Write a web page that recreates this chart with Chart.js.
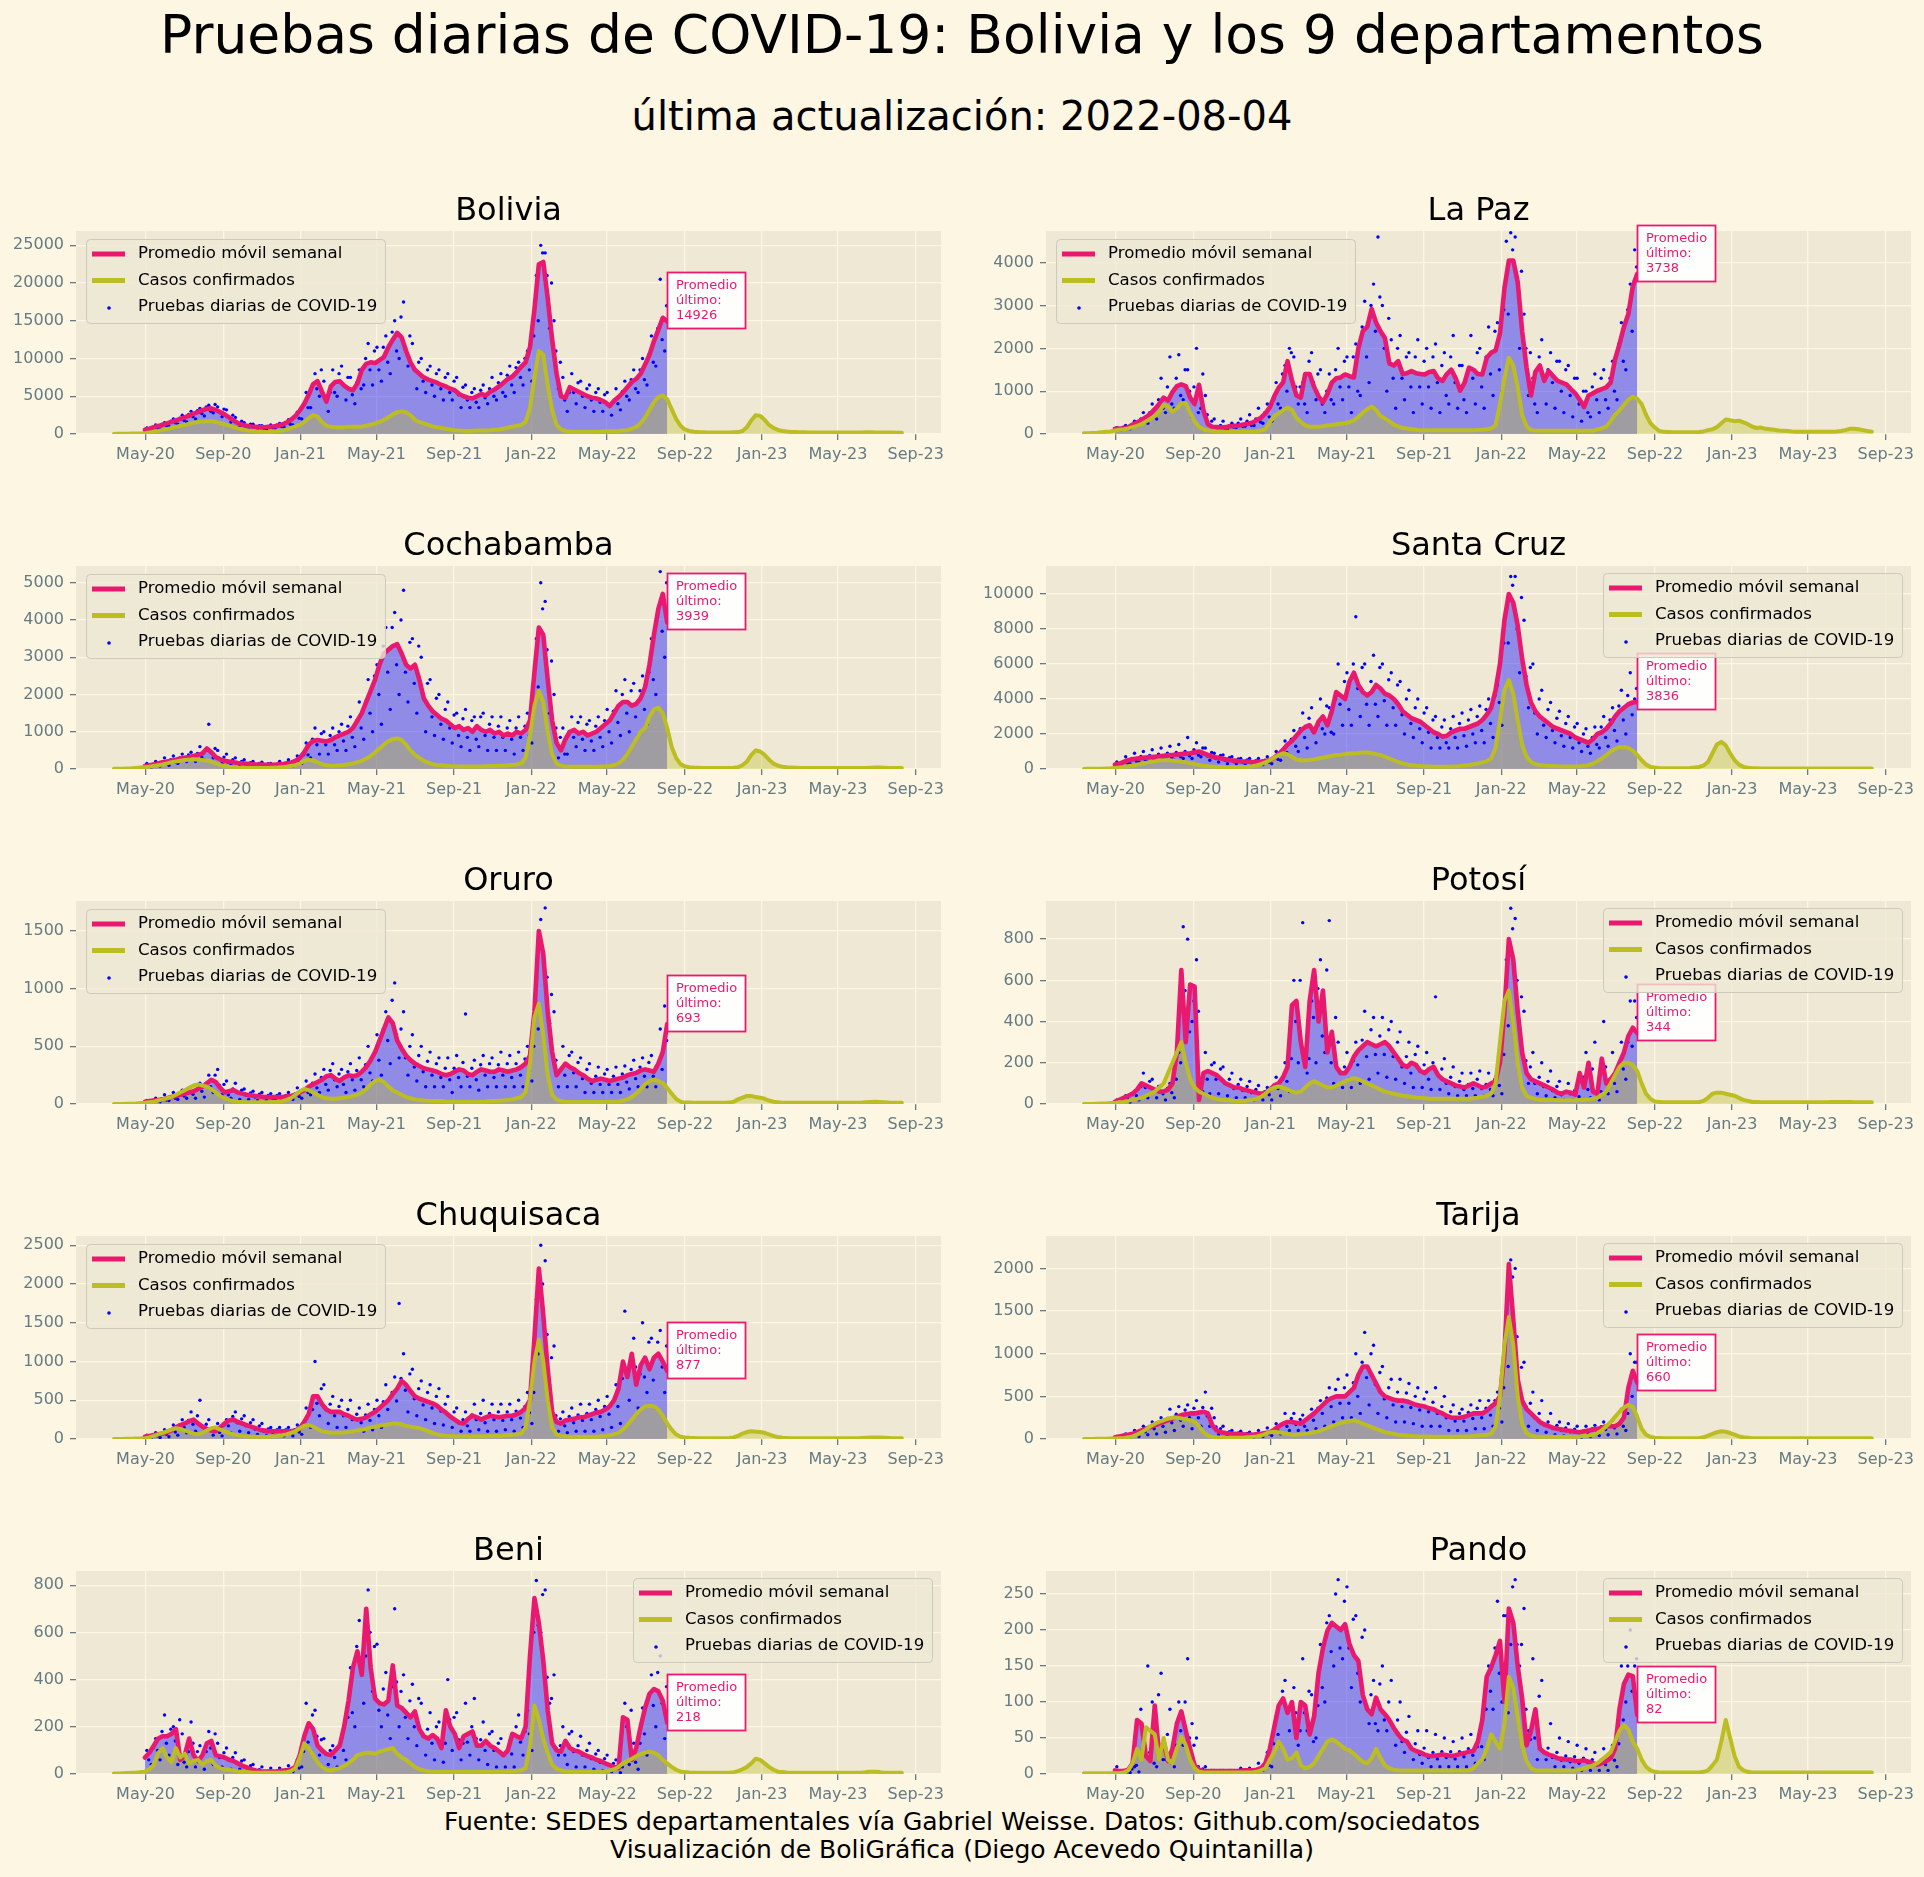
<!DOCTYPE html>
<html><head><meta charset="utf-8">
<script src="https://cdn.jsdelivr.net/npm/chart.js@4"></script>
<style>
html,body{margin:0;padding:0;background:#fdf6e3;}
body{width:1924px;height:1877px;position:relative;overflow:hidden;font-family:'DejaVu Sans',sans-serif;}
.t{position:absolute;white-space:nowrap;color:#000;line-height:1;text-align:center;}
canvas{position:absolute;}
</style></head><body>
<div class="t" style="left:0;width:1924px;top:8px;font-size:53.5px">Pruebas diarias de COVID-19: Bolivia y los 9 departamentos</div>
<div class="t" style="left:0;width:1924px;top:96px;font-size:40px">última actualización: 2022-08-04</div>
<div class="t" style="left:0;width:1924px;top:1809px;font-size:25px">Fuente: SEDES departamentales vía Gabriel Weisse. Datos: Github.com/sociedatos</div>
<div class="t" style="left:0;width:1924px;top:1837px;font-size:25px">Visualización de BoliGráfica (Diego Acevedo Quintanilla)</div>
<script>
// ---- x axis (days counted from 2020-05-01) ----
const xTickDays = [0, 123, 245, 365, 488, 610, 730, 853, 975, 1095, 1218];
const xTickLabels = ['May-20','Sep-20','Jan-21','May-21','Sep-21','Jan-22','May-22','Sep-22','Jan-23','May-23','Sep-23'];
const maStartDay = -1;      // 2020-04-30, weekly moving average of tests
const casesStartDay = -50;  // 2020-03-12, weekly confirmed cases
const testsStartDay = 2;    // 2020-05-03, weekly sample of daily tests
const tests2StartDay = 5;   // 2020-05-06, second weekly sample of daily tests
const stepDays = 7;
const panelNames = ['Bolivia','La Paz','Cochabamba','Santa Cruz','Oruro','Potosí','Chuquisaca','Tarija','Beni','Pando'];

// ---- Bolivia ----
const boliviaMA = [550,700,900,1050,1200,1400,1600,1800,2000,2200,
2450,2700,2900,3150,3350,3400,3200,2900,2600,2200,
1800,1450,1200,1100,1000,950,900,900,950,1000,
1100,1250,1500,1900,2400,3100,4000,5200,6600,7000,
5600,4300,6300,6900,7000,6400,6000,5800,6700,8500,
9300,9500,9400,9800,10200,11500,12500,13400,12800,11000,
9500,8500,8000,7500,7200,7000,6800,6500,6300,6000,
5800,5300,5000,4800,4700,5000,5300,5100,5600,5900,
6300,6800,7300,7600,8200,8900,9500,11500,16500,22500,
22800,18000,12500,8000,5000,4800,6200,5900,5600,5300,
5000,4800,4700,4500,4200,3700,4400,4900,5500,6200,
6900,7300,8000,9200,10500,12300,13800,15400,14926];
const boliviaCases = [10,20,30,40,50,60,80,100,200,300,
400,550,650,800,950,1100,1200,1350,1500,1600,
1650,1700,1700,1600,1450,1300,1100,900,750,600,
500,400,350,300,280,280,300,380,450,600,
800,1000,1200,1600,2100,2500,2300,1600,1100,950,
900,900,900,950,950,950,1000,1100,1250,1400,
1600,1900,2200,2600,2900,3000,2850,2500,1900,1600,
1400,1200,1000,900,800,700,600,500,450,420,
400,420,450,450,480,500,550,600,700,850,
950,1100,1200,1600,3500,7500,11000,10500,6500,3200,
1200,600,400,300,300,300,300,300,300,300,
320,350,350,380,400,450,500,700,950,1400,
2200,3200,4200,4900,5100,4600,3300,2000,1100,600,
400,300,250,220,200,200,200,200,200,200,
220,250,400,900,1800,2500,2400,1900,1200,800,
550,400,320,280,250,230,220,210,200,200,
200,200,190,190,190,190,190,200,200,210,
220,220,210,200,200,190,190,180,180];
const boliviaTests = [800,500,1200,700,1500,1000,2000,1300,2500,1600,
3000,2000,3400,2400,3800,2800,3600,2300,3200,1600,
2200,1000,1500,800,1300,700,1100,600,1200,800,
1400,900,1900,1200,2900,2000,5500,3500,8000,5000,
7000,3000,8500,5000,9000,4500,7500,4000,8500,6500,
12000,6500,11500,7000,13000,8000,15000,10000,17500,9000,
12000,6000,10000,5500,9000,5000,8500,4500,8000,4500,
7500,3500,6500,3500,6000,3500,6500,4000,7500,4500,
8000,5000,9000,5500,9500,6500,11000,7000,21000,25000,
24000,14000,15000,6000,7500,3000,8000,4000,7000,3500,
6500,3000,6000,3000,5500,2500,6000,3200,7000,4500,
8500,5500,10000,6500,13000,9000,20500,11000];
const boliviaTests2 = [600,900,800,1300,1100,1700,1500,2100,1800,2600,
2300,3100,2700,3600,3000,3900,2900,3300,2300,2500,
1500,1700,1000,1300,900,1100,800,1000,850,1200,
1000,1500,1300,2300,2100,3800,3500,6500,6000,8500,
5000,5500,5500,8000,6500,7500,5200,6800,6000,10000,
8500,11000,8500,11500,9500,13500,11000,15500,11500,13000,
8500,9500,7000,8500,6500,8000,6000,7500,5500,7000,
5200,6200,4500,5500,4200,5800,4800,6000,5000,6800,
5500,7800,6500,8800,7500,10000,8500,13000,15000,24000,
21000,20000,11000,9500,4500,5500,5500,6800,5000,6000,
4500,5500,4200,5200,3800,4200,4000,5600,5000,7200,
6000,8500,7200,10500,9500,14000,12500,17000];

// ---- La Paz ----
const laPazMA = [120,130,130,160,220,270,330,390,470,580,
700,850,780,980,1120,1160,1120,850,700,1150,
550,230,170,160,150,160,180,190,200,220,
240,260,320,380,480,620,880,1080,1200,1700,
1250,900,850,1400,1400,1100,880,740,930,1200,
1300,1320,1390,1350,1320,2000,2400,2500,2920,2600,
2400,2240,1650,1600,1700,1400,1420,1470,1420,1400,
1390,1450,1470,1300,1240,1400,1500,1300,1010,1200,
1550,1500,1400,1390,1780,1900,1950,2350,3400,4050,
4050,3550,2400,1550,900,1450,1600,1240,1470,1350,
1240,1200,1160,1050,950,800,630,900,950,1010,
1050,1090,1200,1750,2100,2500,2800,3450,3738];
const laPazCases = [20,20,25,30,40,50,60,80,100,110,
130,160,190,230,290,350,420,520,680,650,
520,600,720,720,500,300,170,110,80,70,
60,55,55,55,55,55,55,55,55,60,
80,110,280,420,480,560,620,560,380,280,
200,170,170,170,180,200,210,230,240,250,
280,320,400,500,580,640,560,420,360,300,
220,180,140,130,110,100,90,90,90,90,
90,90,90,90,90,90,90,90,90,95,
100,110,130,200,700,1300,1780,1600,1100,450,
180,90,80,75,75,75,75,75,75,75,
75,75,75,75,75,75,110,130,170,300,
450,550,680,800,870,820,700,450,250,150,
70,50,45,40,40,40,40,40,40,45,
60,90,110,160,250,340,320,300,310,270,
230,170,140,150,120,110,100,80,75,70,
60,55,55,55,55,55,55,55,55,55,
60,70,90,120,120,110,90,70,55];
const laPazTests = [150,100,200,120,300,200,500,250,700,350,
1300,500,1800,600,1850,800,1500,400,2000,600,
900,200,350,150,300,120,250,150,350,180,
450,200,600,250,700,300,1200,600,1600,2000,
1800,700,1200,500,1900,800,1500,500,1400,700,
2000,800,1800,500,2100,900,3100,1200,3500,4600,
3000,1000,2200,600,2300,800,1900,500,2200,700,
2000,600,2100,500,1900,700,2300,600,1600,500,
2300,700,2000,600,2500,900,2600,1000,4500,4700,
4600,2000,2800,900,1300,500,2200,700,1900,600,
1700,500,1600,400,1300,300,1000,400,1400,500,
1500,600,1700,800,2600,1500,3500,4300];
const laPazTests2 = [100,160,120,200,180,350,280,500,400,800,
600,1100,700,1300,900,1500,1000,1100,500,1400,
450,300,140,200,130,200,160,250,180,300,
200,350,280,500,400,800,700,1400,1000,1900,
1100,1100,700,1700,1200,1400,700,1000,800,1500,
1100,1700,1100,1800,1000,2500,1800,3000,2400,3200,
2000,2700,1300,2000,1300,1800,1100,1800,1100,1700,
1100,1800,1200,1600,900,1800,1200,1600,800,1500,
1300,1900,1100,1800,1400,2400,1500,2900,2800,4300,
3600,3800,2000,1900,700,1800,1300,1500,1200,1700,
1000,1500,900,1300,700,1000,500,1100,800,1300,
800,1300,1000,2100,1700,2900,2400,3900];

// ---- Cochabamba ----
const cochabambaMA = [80,100,120,150,180,200,220,250,280,300,
320,350,380,420,550,450,320,260,220,200,
180,160,150,140,130,120,120,110,110,110,
120,130,150,170,220,300,450,650,750,780,
760,740,780,850,900,950,1000,1100,1300,1500,
1800,2100,2400,2800,3100,3200,3300,3350,3100,2800,
2700,2800,2400,1900,1700,1550,1450,1350,1300,1200,
1100,1150,1050,1100,1000,1150,1050,1000,1050,950,
1000,900,950,900,1000,950,1050,1300,2600,3800,
3600,2400,1300,700,500,800,1000,1050,950,1000,
900,950,1000,1100,1200,1300,1500,1700,1800,1800,
1700,1750,1900,2200,2800,3600,4300,4700,3939];
const cochabambaCases = [5,5,10,15,20,30,40,50,60,80,
100,120,150,180,200,220,240,250,260,250,
240,230,200,150,110,80,60,50,40,35,
30,30,30,30,30,30,35,40,50,60,
80,100,150,220,250,230,180,130,100,90,
90,100,110,130,150,180,220,280,350,450,
550,650,750,800,820,780,650,500,380,300,
220,170,130,110,100,90,80,75,70,70,
70,70,70,70,75,80,80,85,90,100,
110,120,150,300,900,1700,2100,1800,1000,400,
150,90,70,60,60,60,60,60,60,60,
65,70,80,100,150,250,400,600,800,1000,
1100,1400,1600,1650,1500,1100,600,300,130,70,
50,40,35,30,30,30,30,30,30,30,
35,50,100,200,380,500,470,380,250,150,
90,60,45,40,35,30,30,30,30,30,
30,30,30,30,30,30,30,30,30,30,
30,35,40,40,35,30,30,30,30];
const cochabambaTests = [150,50,200,80,300,100,350,150,400,200,
450,200,600,250,1200,300,500,150,400,100,
300,80,250,60,200,50,180,50,150,60,
200,70,250,80,350,150,700,300,1100,400,
1000,400,1100,500,1200,500,1400,600,1800,800,
2400,1000,2800,1200,3800,1600,4200,2000,4800,1800,
3500,1500,3000,1000,2400,900,2000,800,1800,700,
1500,600,1600,500,1400,600,1500,500,1400,500,
1400,500,1300,400,1400,500,1500,700,3500,5000,
4500,1500,2000,300,1100,400,1400,600,1400,500,
1300,500,1400,600,1600,700,2100,900,2400,1000,
2300,900,2500,1200,3500,2000,5300,3000];
const cochabambaTests2 = [70,130,100,180,150,250,180,300,240,380,
280,420,320,500,450,550,280,320,180,250,
150,200,120,170,110,150,100,140,90,130,
100,160,120,210,180,380,380,800,650,950,
650,900,650,1000,750,1150,850,1300,1100,1800,
1500,2500,2000,3300,2600,3800,2800,4000,2600,3400,
2300,3300,2000,2300,1400,1900,1200,1600,1100,1450,
900,1350,850,1300,800,1400,900,1200,850,1150,
850,1100,800,1100,850,1150,900,1600,2200,4300,
3200,2900,1100,850,400,1000,850,1250,800,1200,
750,1150,850,1300,1000,1550,1250,2000,1500,2100,
1400,2100,1600,2600,2400,4200,3700,5000];

// ---- Santa Cruz ----
const santaCruzMA = [250,300,400,500,550,600,620,650,680,700,
720,750,780,800,820,850,880,900,950,1000,
900,800,700,650,600,550,500,480,450,430,
420,400,400,420,450,500,650,850,1100,1400,
1600,1900,2200,2400,2500,2100,2700,3000,2500,3300,
4400,4200,4000,5000,5500,4800,4400,4200,4400,4800,
4600,4300,4200,4000,3700,3300,3100,2900,2800,2700,
2500,2300,2100,2000,1850,1900,2100,2200,2300,2300,
2400,2500,2600,2800,3100,3500,4500,6000,8500,10000,
9500,8200,6300,4800,3800,3300,3000,2800,2600,2400,
2300,2200,2100,2000,1800,1700,1600,1500,1700,2000,
2100,2300,2600,3000,3300,3500,3700,3800,3836];
const santaCruzCases = [5,10,10,15,20,30,40,60,80,120,
160,200,250,300,350,400,450,480,500,500,
480,450,420,380,330,280,230,190,160,140,
120,110,100,100,100,100,110,130,160,200,
280,380,500,650,800,900,850,700,550,500,
500,520,550,600,650,700,750,800,820,850,
880,900,920,950,950,900,850,800,700,600,
500,400,320,260,220,190,170,150,140,130,
130,130,130,140,150,170,200,230,270,320,
380,450,600,1200,2800,4500,5100,4300,2800,1400,
700,400,280,230,200,180,170,160,150,150,
150,150,160,180,230,300,450,600,800,1000,
1150,1250,1250,1200,1050,800,500,250,120,80,
60,50,50,50,50,50,50,60,80,120,
200,400,900,1400,1550,1350,900,500,250,120,
70,50,40,35,30,30,30,30,30,30,
30,30,30,30,30,30,30,30,30,30,
30,30,30,30,30,30,30,30,30];
const santaCruzTests = [400,150,700,300,900,400,1000,400,1100,500,
1200,500,1300,500,1400,600,1800,600,1500,700,
1200,500,900,400,800,300,700,300,600,300,
600,250,600,250,700,300,1000,500,1600,800,
2200,1000,3200,1200,3500,1500,4000,2000,3500,2000,
6000,2500,5500,2500,8700,3000,6000,2500,6500,3000,
6000,2500,5500,2500,5000,2000,4500,1800,4000,1500,
3500,1200,3000,1200,2800,1200,3000,1200,3200,1300,
3400,1500,3600,1500,4000,1800,4800,2500,9000,11000,
11000,5500,8500,3500,6000,2000,4500,1800,3800,1500,
3300,1300,3000,1200,2600,1000,2300,900,2400,1200,
3000,1300,3500,1600,4500,2000,5500,4000];
const santaCruzTests2 = [220,380,330,600,450,720,520,780,560,850,
600,900,650,950,700,1000,750,1100,800,1200,
750,950,600,780,500,650,420,580,380,520,
350,480,340,500,380,600,550,1000,950,1700,
1300,2300,1800,2900,2100,2500,2300,3600,2100,4000,
3700,5000,3400,6000,4600,5800,3700,5000,3700,5800,
3900,5100,3500,4800,3100,4000,2600,3500,2300,3200,
2100,2800,1800,2400,1500,2300,1800,2600,1900,2800,
2000,3000,2200,3400,2600,4200,3800,7200,7200,10500,
8000,9800,5300,5800,3200,4000,2500,3400,2200,2900,
1900,2600,1800,2400,1500,2000,1300,1800,1400,2400,
1800,2800,2200,3600,2800,4200,3100,4600];

// ---- Oruro ----
const oruroMA = [20,25,30,35,40,50,60,70,80,90,
100,110,130,150,180,210,190,140,100,110,
120,100,90,80,75,70,65,60,60,60,
60,60,65,70,80,100,120,150,170,190,
210,240,250,220,200,230,250,240,250,280,
320,380,450,550,650,750,700,550,480,420,
380,350,330,310,300,290,280,260,250,260,
280,300,290,260,250,280,300,290,280,280,
300,290,280,290,300,320,350,420,800,1500,
1300,800,450,250,300,350,320,300,270,250,
220,200,210,220,210,200,210,220,230,250,
260,270,290,300,290,280,350,450,693];
const oruroCases = [0,0,1,2,3,5,8,10,15,20,
30,40,50,60,80,100,120,140,160,170,
160,150,130,100,70,50,35,25,20,18,
15,15,15,15,15,15,18,20,25,35,
50,80,110,130,120,100,80,60,50,45,
45,50,55,60,70,80,100,130,170,200,
210,190,150,120,100,80,60,50,40,35,
30,28,25,25,25,22,20,20,20,20,
20,20,20,20,22,25,25,28,30,35,
40,50,60,100,350,750,870,600,250,80,
40,25,20,18,18,18,18,18,18,18,
18,18,20,20,22,30,40,60,90,130,
170,200,210,200,180,140,90,45,20,12,
12,10,10,10,10,10,10,10,10,12,
20,40,55,70,70,60,55,45,30,20,
15,10,10,10,10,10,10,10,10,10,
10,10,10,10,10,10,10,10,10,12,
15,18,20,18,15,12,10,10,10];
const oruroTests = [30,10,50,20,80,30,100,40,120,50,
150,50,180,60,250,100,300,80,200,50,
180,40,130,40,110,30,100,30,90,30,
90,30,100,40,140,50,200,80,260,100,
300,120,350,150,300,100,350,120,400,150,
500,200,600,250,800,350,1050,400,800,250,
600,200,500,150,450,150,400,150,400,100,
420,150,780,150,380,120,420,150,400,150,
450,150,420,150,450,150,500,200,1100,1600,
1700,700,800,150,500,150,450,150,400,100,
350,100,320,100,300,100,320,100,330,130,
380,150,400,150,420,150,650,850];
const oruroTests2 = [15,30,25,45,35,60,50,85,70,110,
85,130,110,180,150,250,160,170,80,130,
100,120,75,95,60,85,55,75,50,75,
50,75,55,85,65,120,100,180,140,230,
170,290,210,260,170,280,210,290,210,340,
270,450,380,650,550,900,600,650,400,500,
320,420,280,370,250,350,230,310,210,310,
230,360,240,310,210,340,250,350,230,340,
250,350,230,350,250,390,290,500,650,1300,
1100,950,380,300,250,420,270,360,220,300,
180,240,170,260,170,240,170,260,190,300,
220,320,240,360,240,340,300,550];

// ---- Potosí ----
const potosiMA = [10,20,30,40,50,70,100,90,80,70,
60,60,70,100,250,650,300,580,570,20,
150,160,150,140,120,100,90,80,80,70,
65,60,55,50,55,70,90,100,130,180,
480,500,300,180,500,650,400,550,250,350,
180,150,150,180,230,260,280,300,290,280,
290,300,280,250,220,190,180,200,190,160,
150,170,180,140,120,110,100,90,85,80,
90,100,90,80,85,100,110,200,450,800,
700,450,250,150,120,110,100,90,80,70,
55,50,60,55,45,150,80,200,60,50,
220,100,120,150,200,250,330,370,344];
const potosiCases = [0,0,0,1,2,3,5,5,8,10,
15,20,25,30,40,50,60,80,100,150,
200,250,300,200,120,80,60,50,40,30,
25,20,20,18,15,15,15,18,20,25,
35,50,70,80,85,80,70,60,55,60,
80,100,110,100,90,80,80,90,100,110,
120,125,120,110,100,90,80,70,60,55,
50,45,40,38,35,32,30,28,25,25,
25,25,25,25,25,25,25,25,28,30,
35,40,50,100,300,500,550,400,200,80,
40,30,25,20,20,20,20,18,18,18,
18,18,20,20,22,25,30,45,60,100,
140,180,200,200,190,160,100,50,25,12,
10,8,8,8,8,8,8,8,8,10,
15,30,50,55,55,50,45,40,30,20,
15,10,10,8,8,8,8,8,8,8,
8,8,8,8,8,8,8,8,8,10,
10,10,10,10,8,8,8,8,8];
const potosiTests = [20,5,40,10,60,20,150,30,120,30,
90,20,100,30,250,860,800,400,700,100,
250,50,200,50,180,40,150,30,120,30,
110,20,90,20,80,20,130,40,200,60,
600,200,880,150,500,200,700,250,890,100,
300,80,250,80,300,100,450,120,420,150,
420,130,400,120,350,100,300,80,280,80,
250,70,520,70,220,50,180,40,150,40,
150,40,160,40,150,40,170,50,700,950,
900,350,450,100,250,50,200,40,160,30,
110,20,100,20,80,20,250,30,300,20,
400,50,250,60,300,120,500,500];
const potosiTests2 = [8,25,25,50,40,85,80,110,65,85,
50,75,55,120,200,550,350,500,450,60,
120,190,120,170,100,120,75,95,65,85,
55,70,45,60,45,85,75,120,110,220,
400,600,250,220,420,560,330,650,200,420,
150,180,120,210,190,310,230,360,240,330,
240,360,230,300,180,230,150,240,160,190,
120,200,150,170,100,130,85,110,70,95,
75,120,75,95,70,120,90,240,380,850,
600,520,210,180,100,130,85,110,65,85,
45,60,50,65,35,130,70,170,50,60,
180,120,100,180,170,300,280,420];

// ---- Chuquisaca ----
const chuquisacaMA = [30,40,50,60,70,90,110,150,180,200,
230,250,200,160,130,110,100,150,200,240,
250,220,200,180,160,140,120,110,100,100,
100,100,100,100,110,140,220,320,550,550,
450,380,350,350,350,320,300,270,250,260,
280,320,350,400,450,500,580,650,750,700,
620,550,520,500,480,460,430,380,340,290,
250,210,200,260,300,280,250,280,300,290,
280,290,300,300,320,350,400,500,1300,2200,
1600,900,350,220,200,240,250,260,280,280,
300,320,340,350,380,420,500,650,1000,800,
1100,700,950,1050,900,1050,1100,1000,877];
const chuquisacaCases = [0,0,1,2,3,5,8,10,20,40,
60,80,100,120,140,130,110,90,70,60,
80,110,140,150,120,100,80,60,50,40,
35,30,30,30,30,30,35,40,50,60,
80,100,140,170,180,160,130,100,90,80,
80,80,85,90,100,110,120,130,150,160,
170,180,190,200,200,190,170,160,150,140,
120,100,80,60,50,40,40,35,35,35,
35,35,35,35,35,40,40,40,45,50,
55,60,70,150,500,1000,1280,1000,500,150,
60,40,35,30,30,30,30,30,30,30,
35,40,50,60,80,120,180,250,320,380,
420,430,420,380,300,200,120,60,30,20,
15,12,10,10,10,10,10,10,10,12,
20,40,70,90,100,95,90,80,60,40,
25,15,12,10,10,10,10,10,10,10,
10,10,10,10,10,10,10,10,10,12,
15,18,20,18,15,12,10,10,10];
const chuquisacaTests = [50,10,80,20,120,30,180,50,250,80,
350,100,500,100,250,50,200,40,250,80,
350,100,300,80,250,60,200,50,150,40,
150,40,150,40,180,60,400,150,1000,300,
700,200,550,150,500,150,500,100,400,100,
450,120,500,150,700,200,800,1750,1100,350,
900,300,750,250,700,200,650,180,550,150,
400,100,350,100,450,120,500,100,450,100,
450,120,450,100,500,150,600,200,1800,2500,
2300,700,1200,100,350,80,400,100,450,100,
450,100,500,120,550,150,700,200,1650,500,
1300,400,1500,600,1300,400,1400,600];
const chuquisacaTests2 = [25,50,40,75,60,110,90,180,150,240,
190,300,170,190,110,130,85,180,170,290,
210,260,170,210,130,170,100,130,85,120,
85,120,85,120,90,170,180,380,460,650,
380,450,300,420,300,380,250,320,210,310,
240,380,300,480,380,600,490,780,630,840,
520,650,440,600,400,550,360,450,290,350,
210,250,170,310,250,330,210,330,250,350,
240,350,250,360,270,420,340,600,1100,2000,
1350,1050,300,260,170,290,210,310,240,330,
250,380,290,420,320,500,420,780,850,950,
930,840,800,1250,760,1250,930,1200];

// ---- Tarija ----
const tarijaMA = [20,30,40,50,60,80,100,120,140,160,
180,200,220,240,260,280,290,300,300,310,
320,300,160,100,80,70,65,60,55,55,
50,50,55,60,70,80,110,150,180,200,
200,190,180,220,260,300,350,400,450,480,
500,500,500,550,600,750,850,850,750,650,
550,500,480,460,450,450,440,420,400,390,
380,360,350,320,300,270,250,250,250,260,
280,300,300,300,330,380,420,500,1000,2050,
1400,700,450,350,300,250,200,170,150,130,
120,110,100,95,85,80,90,100,110,120,
130,150,150,150,180,250,600,800,660];
const tarijaCases = [0,0,1,2,3,4,5,5,8,10,
20,30,50,80,110,150,180,200,220,240,
250,250,240,230,220,200,150,80,40,25,
20,15,15,15,15,15,15,20,25,30,
40,60,80,85,80,70,60,50,50,55,
60,70,80,90,110,130,150,170,190,200,
210,220,200,180,160,140,120,100,80,70,
60,50,45,40,35,30,30,30,28,25,
25,25,25,25,25,28,30,30,35,40,
45,50,60,150,500,1100,1430,1100,500,180,
70,40,30,25,25,25,25,25,25,25,
25,25,30,35,40,50,70,100,150,200,
260,320,370,400,380,260,120,50,25,15,
12,10,10,10,10,10,10,10,10,12,
20,40,60,80,90,85,70,50,30,20,
15,10,10,10,10,10,10,10,10,10,
10,10,10,10,10,10,10,10,10,10,
10,10,10,10,10,10,10,10,10];
const tarijaTests = [30,10,60,20,100,30,150,50,200,60,
250,80,350,100,380,150,400,120,450,150,
550,150,250,50,150,40,100,30,90,20,
80,20,100,30,130,40,180,60,300,100,
300,100,280,100,350,120,450,150,600,200,
700,250,750,250,1000,300,1250,400,1100,300,
850,250,700,200,700,200,650,180,600,150,
550,150,600,150,500,100,400,100,350,100,
400,120,450,120,450,150,550,200,1500,2100,
2000,500,900,150,550,100,450,80,300,50,
200,40,180,30,150,20,150,30,160,40,
200,50,220,60,350,100,1000,900];
const tarijaTests2 = [15,35,35,60,50,95,85,145,120,190,
150,240,190,290,220,340,250,360,250,370,
270,360,140,120,65,85,55,70,45,65,
40,60,45,70,60,95,95,180,150,240,
170,230,150,260,220,360,300,480,380,580,
420,600,420,660,500,900,720,1000,640,780,
470,600,400,550,380,540,370,500,340,470,
320,430,300,380,250,320,210,300,210,310,
240,360,250,360,280,450,360,600,850,1900,
1200,840,380,420,250,300,170,200,130,160,
100,130,85,115,70,95,75,120,95,145,
110,180,130,180,150,300,500,900];

// ---- Beni ----
const beniMA = [70,90,120,150,160,160,170,190,60,80,
150,80,55,80,130,140,80,75,70,60,
55,45,35,28,20,15,12,10,10,10,
12,15,15,20,30,80,160,215,190,120,
100,85,80,100,120,200,310,450,520,420,
700,450,320,300,295,310,460,290,280,260,
240,265,190,160,150,165,150,110,270,200,
170,110,160,170,180,120,120,140,120,110,
95,80,100,170,160,150,200,500,745,640,
480,270,130,100,95,140,110,100,95,85,
75,70,60,55,45,38,30,25,240,230,
60,110,200,280,340,360,350,310,218];
const beniCases = [2,2,3,4,5,5,8,10,20,40,
90,110,70,50,110,70,85,45,55,60,
40,55,60,35,25,20,18,15,12,10,
8,6,5,5,5,5,5,5,5,8,
12,25,70,130,110,80,50,30,18,15,
20,25,35,45,60,80,85,90,90,85,
95,100,105,110,85,70,60,45,30,20,
15,12,10,10,10,10,10,10,10,10,
10,10,10,10,10,10,10,10,10,12,
12,14,16,25,120,290,230,150,90,40,
22,15,12,10,10,10,10,10,10,10,
10,12,15,20,30,45,55,65,75,85,
90,95,90,80,60,45,30,18,10,8,
6,5,5,5,5,5,5,5,5,5,
8,12,20,30,45,65,60,45,30,18,
10,8,6,5,5,5,5,5,5,5,
5,5,5,5,5,5,5,5,5,5,
8,10,10,8,5,5,5,5,5];
const beniTests = [100,40,150,60,250,80,200,40,170,30,
220,30,120,20,180,40,130,30,110,20,
90,20,60,10,40,10,30,5,25,5,
25,5,35,10,60,30,300,100,270,80,
150,40,120,30,150,60,450,200,650,300,
780,350,550,200,430,150,700,200,420,150,
380,120,300,80,260,60,220,50,400,100,
260,60,300,80,320,60,220,40,180,30,
150,30,140,30,250,80,270,100,820,600,
780,300,420,80,200,40,180,30,160,30,
130,20,100,15,80,10,60,5,300,40,
130,20,280,80,420,200,500,150];
const beniTests2 = [60,110,100,180,130,190,140,230,50,95,
130,95,45,95,110,170,70,90,60,70,
45,55,30,35,17,18,10,12,8,12,
10,18,12,24,25,95,135,250,160,145,
85,100,70,120,100,240,260,540,440,500,
600,540,270,360,250,370,390,350,240,310,
200,320,160,190,130,200,130,130,230,240,
145,130,135,200,150,145,100,170,100,130,
80,95,85,200,135,180,170,600,630,760,
410,320,110,120,80,170,95,120,80,100,
65,85,50,65,38,45,25,30,200,270,
50,130,170,330,290,430,300,370];

// ---- Pando ----
const pandoMA = [5,4,4,6,15,75,70,25,18,95,
25,45,18,35,70,87,60,35,12,6,
4,4,4,4,4,4,4,4,4,5,
5,5,6,8,15,35,65,95,105,85,
100,50,100,95,55,80,140,175,199,210,
205,200,208,180,165,157,110,90,83,106,
90,83,75,64,55,48,45,35,32,30,
27,25,25,26,27,26,25,26,28,29,
31,32,45,75,135,148,165,185,100,230,
210,150,105,40,60,90,35,30,27,25,
22,21,20,20,18,18,19,17,15,13,
15,18,22,35,90,125,138,136,82];
const pandoCases = [1,1,1,1,1,1,1,1,1,2,
5,15,35,20,65,60,55,20,50,20,
15,35,52,40,20,8,3,2,2,2,
2,2,2,2,2,2,2,2,2,3,
5,8,20,30,45,35,20,22,30,12,
8,10,15,25,35,45,48,45,40,35,
33,28,22,17,15,22,35,22,12,8,
6,5,5,5,5,5,5,5,5,5,
5,5,5,5,5,5,5,5,8,15,
20,35,55,45,35,70,135,120,80,40,
18,8,5,5,5,5,5,5,5,5,
5,5,6,8,10,12,15,20,25,30,
45,60,68,62,45,35,20,10,5,3,
2,2,2,2,2,2,2,2,2,2,
3,5,12,20,45,75,50,25,10,5,
3,2,2,2,2,2,2,2,2,2,
2,2,2,2,2,2,2,2,2,2,
2,2,2,2,2,2,2,2,2];
const pandoTests = [10,2,5,2,10,3,30,150,100,10,
140,20,90,10,100,40,160,70,50,5,
10,2,5,2,5,2,5,2,8,2,
8,2,15,5,30,10,80,40,130,60,
120,40,160,60,110,50,180,100,220,150,
270,160,260,120,220,100,200,70,130,60,
150,60,130,40,100,30,80,20,60,15,
60,10,55,10,50,10,45,10,50,10,
55,15,60,20,150,90,240,100,220,180,
270,150,230,60,160,20,130,20,70,10,
50,10,45,8,40,5,35,5,30,5,
35,5,40,10,150,100,200,150];
const pandoTests2 = [4,5,3,7,12,90,60,30,15,110,
20,55,15,40,60,100,50,40,10,7,
3,5,3,5,3,5,3,5,3,6,
4,6,5,10,12,42,55,115,90,100,
85,60,85,115,45,95,120,210,170,250,
175,240,175,215,140,190,95,110,70,125,
75,100,65,75,45,58,38,42,27,36,
23,30,21,31,23,31,21,31,24,35,
26,38,38,90,115,175,140,220,85,260,
180,180,90,48,50,108,30,36,23,30,
19,25,17,24,15,22,16,20,13,16,
13,22,19,42,75,150,115,160];

// ---- chart styling / layout ----
const PINK = '#e8196f', OLIVE = '#bcbd22', BLUE = '#0000ff';
const TICK = '#657b83', GRID = '#fdf6e3', AXBG = '#eee8d5';
const FONT = "'DejaVu Sans'";
const panels = [
  {ma: boliviaMA, cases: boliviaCases, tests: boliviaTests, tests2: boliviaTests2, yMax: 26900, step: 5000, legend: 'left'},
  {ma: laPazMA, cases: laPazCases, tests: laPazTests, tests2: laPazTests2, yMax: 4740, step: 1000, legend: 'left'},
  {ma: cochabambaMA, cases: cochabambaCases, tests: cochabambaTests, tests2: cochabambaTests2, yMax: 5450, step: 1000, legend: 'left'},
  {ma: santaCruzMA, cases: santaCruzCases, tests: santaCruzTests, tests2: santaCruzTests2, yMax: 11600, step: 2000, legend: 'right'},
  {ma: oruroMA, cases: oruroCases, tests: oruroTests, tests2: oruroTests2, yMax: 1760, step: 500, legend: 'left'},
  {ma: potosiMA, cases: potosiCases, tests: potosiTests, tests2: potosiTests2, yMax: 985, step: 200, legend: 'right'},
  {ma: chuquisacaMA, cases: chuquisacaCases, tests: chuquisacaTests, tests2: chuquisacaTests2, yMax: 2620, step: 500, legend: 'left'},
  {ma: tarijaMA, cases: tarijaCases, tests: tarijaTests, tests2: tarijaTests2, yMax: 2380, step: 500, legend: 'right'},
  {ma: beniMA, cases: beniCases, tests: beniTests, tests2: beniTests2, yMax: 860, step: 200, legend: 'right'},
  {ma: pandoMA, cases: pandoCases, tests: pandoTests, tests2: pandoTests2, yMax: 282, step: 50, legend: 'right'}
];
const legendLabels = ['Promedio móvil semanal', 'Casos confirmados', 'Pruebas diarias de COVID-19'];

function toXY(arr, start) { return arr.map((v, i) => ({x: start + stepDays * i, y: v})); }

function roundRect(ctx, x, y, w, h, r) {
  ctx.beginPath();
  ctx.moveTo(x + r, y); ctx.lineTo(x + w - r, y); ctx.quadraticCurveTo(x + w, y, x + w, y + r);
  ctx.lineTo(x + w, y + h - r); ctx.quadraticCurveTo(x + w, y + h, x + w - r, y + h);
  ctx.lineTo(x + r, y + h); ctx.quadraticCurveTo(x, y + h, x, y + h - r);
  ctx.lineTo(x, y + r); ctx.quadraticCurveTo(x, y, x + r, y); ctx.closePath();
}

const bgPlugin = {
  id: 'axbg',
  beforeDraw(chart) {
    const a = chart.chartArea, ctx = chart.ctx;
    ctx.save(); ctx.fillStyle = AXBG; ctx.fillRect(a.left, a.top, a.right - a.left, a.bottom - a.top); ctx.restore();
  }
};

function makeOverlay(p) {
  return {
    id: 'overlay',
    afterDraw(chart) {
      const ctx = chart.ctx, a = chart.chartArea;
      const lastVal = p.ma[p.ma.length - 1];
      const lastDay = maStartDay + stepDays * (p.ma.length - 1);
      const px = chart.scales.x.getPixelForValue(lastDay);
      const py = chart.scales.y.getPixelForValue(lastVal);
      ctx.save();
      ctx.font = '13px ' + FONT;
      const lines = ['Promedio', 'último:', String(lastVal)];
      const tw = Math.max(...lines.map(l => ctx.measureText(l).width));
      const bw = Math.round(tw + 18), bh = 57;
      const bx = Math.round(px), by = Math.round(py + 8 - bh);
      ctx.fillStyle = 'rgba(255,255,255,0.92)';
      ctx.fillRect(bx, by, bw, bh);
      ctx.strokeStyle = PINK; ctx.lineWidth = 1.8;
      ctx.strokeRect(bx + 0.5, by + 0.5, bw - 1, bh - 1);
      ctx.fillStyle = PINK; ctx.textBaseline = 'alphabetic'; ctx.textAlign = 'left';
      lines.forEach((l, i) => ctx.fillText(l, bx + 9, by + 17 + 15 * i));
      ctx.restore();
      ctx.save();
      ctx.font = '16.6px ' + FONT;
      const lw = Math.max(...legendLabels.map(l => ctx.measureText(l).width));
      const w = Math.round(52 + lw + 8), h = 84;
      const x = p.legend === 'left' ? a.left + 10 : a.right - 9 - w;
      const y = a.top + (p.legend === 'left' ? 8 : 7);
      roundRect(ctx, x + 0.5, y + 0.5, w, h, 4);
      ctx.fillStyle = 'rgba(238,232,213,0.8)'; ctx.fill();
      ctx.strokeStyle = '#cdc9bd'; ctx.lineWidth = 1; ctx.stroke();
      const rows = [y + 15, y + 41.5, y + 68];
      ctx.lineCap = 'butt';
      ctx.strokeStyle = PINK; ctx.lineWidth = 5;
      ctx.beginPath(); ctx.moveTo(x + 6, rows[0]); ctx.lineTo(x + 39, rows[0]); ctx.stroke();
      ctx.strokeStyle = OLIVE;
      ctx.beginPath(); ctx.moveTo(x + 6, rows[1]); ctx.lineTo(x + 39, rows[1]); ctx.stroke();
      ctx.fillStyle = BLUE;
      ctx.beginPath(); ctx.arc(x + 23, rows[2] + 1, 1.8, 0, Math.PI * 2); ctx.fill();
      ctx.fillStyle = '#000'; ctx.textBaseline = 'middle'; ctx.textAlign = 'left';
      legendLabels.forEach((l, i) => ctx.fillText(l, x + 52, rows[i]));
      ctx.restore();
    }
  };
}

const AX_W = 865, AX_H = 203, TOP_PAD = 20, XAX_H = 40, YAX_W = 76;
panels.forEach((p, i) => {
  const col = i % 2, row = Math.floor(i / 2);
  const axTop = 231 + 335 * row;
  const axLeft = col ? 1046 : 76;
  const canvasLeft = axLeft - YAX_W;
  const canvasW = col ? 1924 - canvasLeft : 960;
  const padR = canvasW - YAX_W - AX_W;
  const t = document.createElement('div');
  t.className = 't';
  t.style.cssText = `left:${axLeft}px;width:${AX_W}px;top:${axTop - 38}px;font-size:32px;z-index:2`;
  t.textContent = panelNames[i];
  document.body.appendChild(t);
  const cv = document.createElement('canvas');
  cv.width = canvasW; cv.height = TOP_PAD + AX_H + XAX_H;
  cv.style.left = canvasLeft + 'px'; cv.style.top = (axTop - TOP_PAD) + 'px';
  document.body.appendChild(cv);
  const gridCommon = {color: GRID, lineWidth: 1.3, tickLength: 6, tickColor: TICK, drawTicks: true};
  new Chart(cv.getContext('2d'), {
    type: 'line',
    data: {datasets: [
      {data: toXY(p.ma, maStartDay), fill: 'origin', backgroundColor: 'rgba(0,0,255,0.4)', borderColor: 'transparent', borderWidth: 0, pointRadius: 0, order: 6},
      {data: toXY(p.cases, casesStartDay), fill: 'origin', backgroundColor: 'rgba(188,189,34,0.35)', borderColor: 'transparent', borderWidth: 0, pointRadius: 0, order: 5},
      {type: 'scatter', data: toXY(p.tests, testsStartDay), backgroundColor: BLUE, borderWidth: 0, pointRadius: 1.7, showLine: false, order: 4},
      {type: 'scatter', data: toXY(p.tests2, tests2StartDay), backgroundColor: BLUE, borderWidth: 0, pointRadius: 1.7, showLine: false, order: 3},
      {data: toXY(p.ma, maStartDay), fill: false, borderColor: PINK, borderWidth: 4.6, pointRadius: 0, borderJoinStyle: 'round', borderCapStyle: 'round', order: 2},
      {data: toXY(p.cases, casesStartDay), fill: false, borderColor: OLIVE, borderWidth: 4, pointRadius: 0, borderJoinStyle: 'round', borderCapStyle: 'round', order: 1}
    ]},
    options: {
      responsive: false, animation: false, devicePixelRatio: 1,
      events: [],
      layout: {padding: {left: 0, right: padR, top: TOP_PAD, bottom: 0}},
      plugins: {legend: {display: false}, tooltip: {enabled: false}},
      scales: {
        x: {
          type: 'linear', min: -110, max: 1258,
          afterBuildTicks: s => { s.ticks = xTickDays.map(v => ({value: v})); },
          afterFit: s => { s.height = XAX_H; },
          ticks: {autoSkip: false, maxRotation: 0, minRotation: 0, color: TICK, padding: 5,
                  font: {family: FONT, size: 16},
                  callback: v => { const k = xTickDays.indexOf(v); return k >= 0 ? xTickLabels[k] : ''; }},
          grid: gridCommon, border: {display: false}
        },
        y: {
          type: 'linear', min: 0, max: p.yMax,
          afterBuildTicks: s => { const tk = []; for (let v = 0; v <= p.yMax; v += p.step) tk.push({value: v}); s.ticks = tk; },
          afterFit: s => { s.width = YAX_W; },
          ticks: {autoSkip: false, color: TICK, padding: 6,
                  font: {family: FONT, size: 16}, callback: v => String(v)},
          grid: gridCommon, border: {display: false}
        }
      }
    },
    plugins: [bgPlugin, makeOverlay(p)]
  });
});
</script>
</body></html>
